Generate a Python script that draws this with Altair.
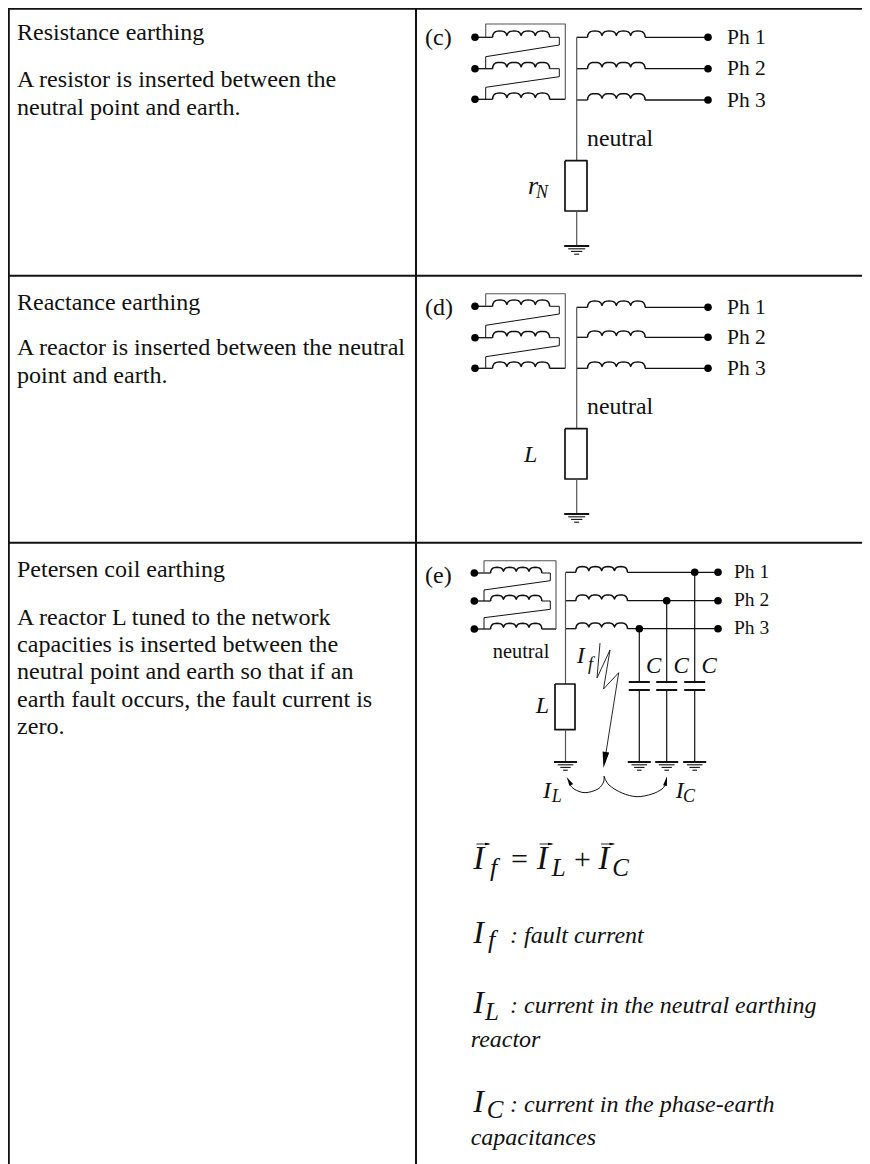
import altair as alt
import pandas as pd

FONT = "Liberation Serif"
INK = "#111111"
GREY = "#555555"

# ---- table rules: (x1, y1, x2, y2, width)
TABLE = [
    (8, 8.8, 862, 8.8, 2), (8.8, 8, 8.8, 1164, 2), (416, 8, 416, 1164, 2),
    (8, 275.7, 862, 275.7, 2), (8, 542.7, 862, 542.7, 2),
]

# ---- one coil turn: fraction along the turn, rise as a fraction of the coil height
TURN_T = [0.0, 0.08, 0.2, 0.35, 0.5, 0.65, 0.8, 0.92, 1.0]
TURN_H = [0.3, 0.68, 0.9, 0.98, 1.0, 0.98, 0.9, 0.68, 0.3]

# ---- winding panels
PANELS = {
    "c": dict(dot=475, c0=492.7, c1=549.5, ret=559.3, left=485.7, right=565.3,
              ys=[37.3, 68.7, 99.3], sl=[(45, 56.7), (76.7, 87.3)], top=24,
              sx=576.7, s0=587.7, s1=645, sy=[37.3, 68.7, 100], end=708, h=6.3),
    "d": dict(dot=475, c0=492.7, c1=549.5, ret=559.3, left=485.7, right=565.3,
              ys=[306.3, 337.7, 368.3], sl=[(314, 325.3), (345.7, 356.7)], top=293.7,
              sx=576.7, s0=587.7, s1=645, sy=[307.3, 337.3, 368.3], end=708, h=6.3),
    "e": dict(dot=474.3, c0=490.7, c1=541.7, ret=550.3, left=484, right=556,
              ys=[573, 601, 629], sl=[(580.7, 590), (609.3, 617.7)], top=560.7,
              sx=565.7, s0=576, s1=627.3, sy=[572.3, 600.7, 628.7], end=718, h=5.7),
}

# ---- neutral earthing element: stem x, rect x0, x1, y0, y1, earth y, half width, stem top
ELEMENTS = [
    (576.7, 565, 587, 160.7, 211, 246, 12.5, 37.3),
    (576.7, 565, 587, 428.7, 479, 514, 12.5, 307.3),
    (565.5, 555, 575, 684, 729.7, 762, 11.5, 572.3),
]

# ---- capacitors in (e)
CAP_X = [694.7, 666.7, 639.3]
CAP_TOP = [572.3, 600.7, 628.7]
CAP_PLATE = [682, 690]
CAP_EARTH = 762
CAP_HALF = 10.5
EARTH_BARS = [(0, 1.0, 2.0), (2.8, 0.68, 1.1), (5.4, 0.45, 1.1), (8.2, 0.2, 1.1)]

LIGHTNING_X = [600, 597, 610, 603.5, 618.7, 604.5]
LIGHTNING_Y = [643, 678, 650, 689, 672.7, 762]

ARROW_X = [[476.5, 489], [539.5, 552], [601, 613.5]]
ARROW_Y = 844

CURVE_L_X = [604, 603.5, 598, 585, 574, 569]
CURVE_L_Y = [776, 782, 789, 792.7, 789, 783]
CURVE_R_X = [604, 609, 622, 637, 652, 662, 665.5]
CURVE_R_Y = [776, 785, 793, 796.7, 794, 789, 784]

HEAD_PATH = "M0,-1L-0.42,1L0.42,1Z"
HEADS = [  # x, y, angle, size
    (604.7, 760, 188.8, 256),
    (569, 781, 330, 90),
    (666, 781, 12, 90),
    (488, 844, 90, 36), (551, 844, 90, 36), (612.5, 844, 90, 36),
]

# ---- text: x, baseline y, string, size
ROMAN = [
    (17, 40, "Resistance earthing", 24),
    (17, 87, "A resistor is inserted between the", 24.1),
    (17, 115, "neutral point and earth.", 24.1),
    (17, 310, "Reactance earthing", 24),
    (17, 355, "A reactor is inserted between the neutral", 24.1),
    (17, 383, "point and earth.", 24.1),
    (17, 577, "Petersen coil earthing", 24),
    (17, 624.5, "A reactor L tuned to the network", 24.1),
    (17, 651.5, "capacities is inserted between the", 24.1),
    (17, 679, "neutral point and earth so that if an", 24.1),
    (17, 706.5, "earth fault occurs, the fault current is", 24.1),
    (17, 734, "zero.", 24.1),
    (425, 45, "(c)", 24), (425, 315, "(d)", 24), (425, 583, "(e)", 24),
    (727, 44, "Ph 1", 21.5), (727, 75, "Ph 2", 21.5), (727, 107, "Ph 3", 21.5),
    (727, 314, "Ph 1", 21.5), (727, 344, "Ph 2", 21.5), (727, 375, "Ph 3", 21.5),
    (734, 578, "Ph 1", 19.5), (734, 606, "Ph 2", 19.5), (734, 634, "Ph 3", 19.5),
    (587, 146, "neutral", 23.8), (587, 414, "neutral", 23.8), (492.7, 658.3, "neutral", 20.4),
    (511, 869, "=", 30), (574, 869, "+", 30),
]
ITALIC = [
    (528, 194.3, "r", 26), (536, 198, "N", 18),
    (524, 462, "L", 24), (535.7, 712.7, "L", 24),
    (576.7, 663, "I", 24), (588, 670, "f", 18),
    (646, 672.7, "C", 23), (673.5, 672.7, "C", 23), (701.5, 672.7, "C", 23),
    (543, 797.7, "I", 24), (551.7, 801.7, "L", 18),
    (675.7, 797.7, "I", 24), (683, 801.7, "C", 18),
    (473.3, 869.3, "I", 33), (490, 876, "f", 26),
    (536.7, 869.3, "I", 33), (551.7, 876, "L", 25),
    (598.3, 869.3, "I", 33), (612.3, 876, "C", 25),
    (473.3, 943.3, "I", 32), (488, 948, "f", 26), (510, 943, ": fault current", 24),
    (473.3, 1013.3, "I", 32), (485, 1020, "L", 25),
    (510, 1013, ": current in the neutral earthing", 24), (470.7, 1046.7, "reactor", 24),
    (473.3, 1111.7, "I", 32), (486.7, 1118, "C", 25),
    (510, 1111.5, ": current in the phase-earth", 24), (470.7, 1145, "capacitances", 24),
]


rows = []
nid = [0]


def poly(xs, ys, w=1.3, c=INK):
    nid[0] += 1
    for i, (x, y) in enumerate(zip(xs, ys)):
        rows.append(dict(id=nid[0], seq=i, x=x, y=y, w=w, c=c))


def coil(x0, x1, y, h, w=1.5):
    step = (x1 - x0) / 4
    xs, ys = [x0], [y]
    for k in range(4):
        for t, r in zip(TURN_T, TURN_H):
            xs.append(x0 + (k + t) * step)
            ys.append(y - r * h)
    xs.append(x1)
    ys.append(y)
    poly(xs, ys, w)


def earth(cx, y, half):
    for dy, f, w in EARTH_BARS:
        poly([cx - half * f, cx + half * f], [y + dy, y + dy], w)


dots = []
for x1, y1, x2, y2, w in TABLE:
    poly([x1, x2], [y1, y2], w)

for p in PANELS.values():
    ys, sl, sy = p["ys"], p["sl"], p["sy"]
    for y in ys:
        dots.append((p["dot"], y))
        poly([p["dot"], p["c0"]], [y, y])
        coil(p["c0"], p["c1"], y, p["h"])
    poly([p["c1"], p["ret"], p["ret"], p["left"], p["left"]],
         [ys[0], ys[0], sl[0][0], sl[0][1], ys[1]], 1.0)
    poly([p["c1"], p["ret"], p["ret"], p["left"], p["left"]],
         [ys[1], ys[1], sl[1][0], sl[1][1], ys[2]], 1.0)
    poly([p["c1"], p["right"]], [ys[2], ys[2]], 1.4)
    poly([p["right"], p["right"], p["left"], p["left"]],
         [ys[2], p["top"], p["top"], ys[0]], 1.1, GREY)
    for y in sy:
        poly([p["sx"], p["s0"]], [y, y])
        coil(p["s0"], p["s1"], y, p["h"])
        poly([p["s1"], p["end"]], [y, y])
        dots.append((p["end"], y))

for sx, x0, x1, y0, y1, ey, half, ytop in ELEMENTS:
    poly([sx, sx], [ytop, y0], 1.2, GREY)
    poly([x0, x1, x1, x0, x0], [y0, y0, y1, y1, y0], 1.7)
    poly([sx, sx], [y1, ey], 1.2, GREY)
    earth(sx, ey, half)

for cx, top in zip(CAP_X, CAP_TOP):
    dots.append((cx, top))
    poly([cx, cx], [top, CAP_PLATE[0]], 1.2)
    poly([cx - CAP_HALF, cx + CAP_HALF], [CAP_PLATE[0], CAP_PLATE[0]], 2)
    poly([cx - CAP_HALF, cx + CAP_HALF], [CAP_PLATE[1], CAP_PLATE[1]], 2)
    poly([cx, cx], [CAP_PLATE[1], CAP_EARTH], 1.2)
    earth(cx, CAP_EARTH, 11.5)

poly(LIGHTNING_X, LIGHTNING_Y, 0.9)
for ax in ARROW_X:
    poly(ax, [ARROW_Y, ARROW_Y], 0.9)

lines = pd.DataFrame(rows)
curves = pd.DataFrame(
    [dict(id=1, seq=i, x=x, y=y) for i, (x, y) in enumerate(zip(CURVE_L_X, CURVE_L_Y))]
    + [dict(id=2, seq=i, x=x, y=y) for i, (x, y) in enumerate(zip(CURVE_R_X, CURVE_R_Y))]
)
dots_df = pd.DataFrame(dots, columns=["x", "y"])
heads = pd.DataFrame(HEADS, columns=["x", "y", "a", "s"])
roman = pd.DataFrame(ROMAN, columns=["x", "y", "t", "s"])
italic = pd.DataFrame(ITALIC, columns=["x", "y", "t", "s"])

X = alt.X("x:Q", axis=None, scale=alt.Scale(domain=[8, 862], nice=False, zero=False))
Y = alt.Y("y:Q", axis=None, scale=alt.Scale(domain=[1164, 8], nice=False, zero=False))

line_layer = alt.Chart(lines).mark_line(strokeCap="butt", strokeJoin="round").encode(
    x=X, y=Y, detail="id:N", order="seq:Q",
    strokeWidth=alt.StrokeWidth("w:Q", scale=None),
    color=alt.Color("c:N", scale=None),
)
curve_layer = alt.Chart(curves).mark_line(interpolate="cardinal", color=INK, strokeWidth=1.0).encode(
    x=X, y=Y, detail="id:N", order="seq:Q",
)
dot_layer = alt.Chart(dots_df).mark_circle(color="#000000", opacity=1, size=58).encode(x=X, y=Y)
head_layer = alt.Chart(heads).mark_point(shape=HEAD_PATH, filled=True, color="#000000", opacity=1).encode(
    x=X, y=Y,
    angle=alt.Angle("a:Q", scale=None),
    size=alt.Size("s:Q", scale=None),
)
roman_layer = alt.Chart(roman).mark_text(
    font=FONT, align="left", baseline="alphabetic", color=INK
).encode(x=X, y=Y, text="t:N", size=alt.Size("s:Q", scale=None))
italic_layer = alt.Chart(italic).mark_text(
    font=FONT, fontStyle="italic", align="left", baseline="alphabetic", color=INK
).encode(x=X, y=Y, text="t:N", size=alt.Size("s:Q", scale=None))

chart = alt.layer(
    line_layer, curve_layer, dot_layer, head_layer, roman_layer, italic_layer
).properties(
    width=854, height=1156, padding=0,
    autosize=alt.AutoSizeParams(type="none"),
).configure_view(stroke=None).configure(background="white")

chart.save("out.html", embed_options={"renderer": "svg", "actions": False})
